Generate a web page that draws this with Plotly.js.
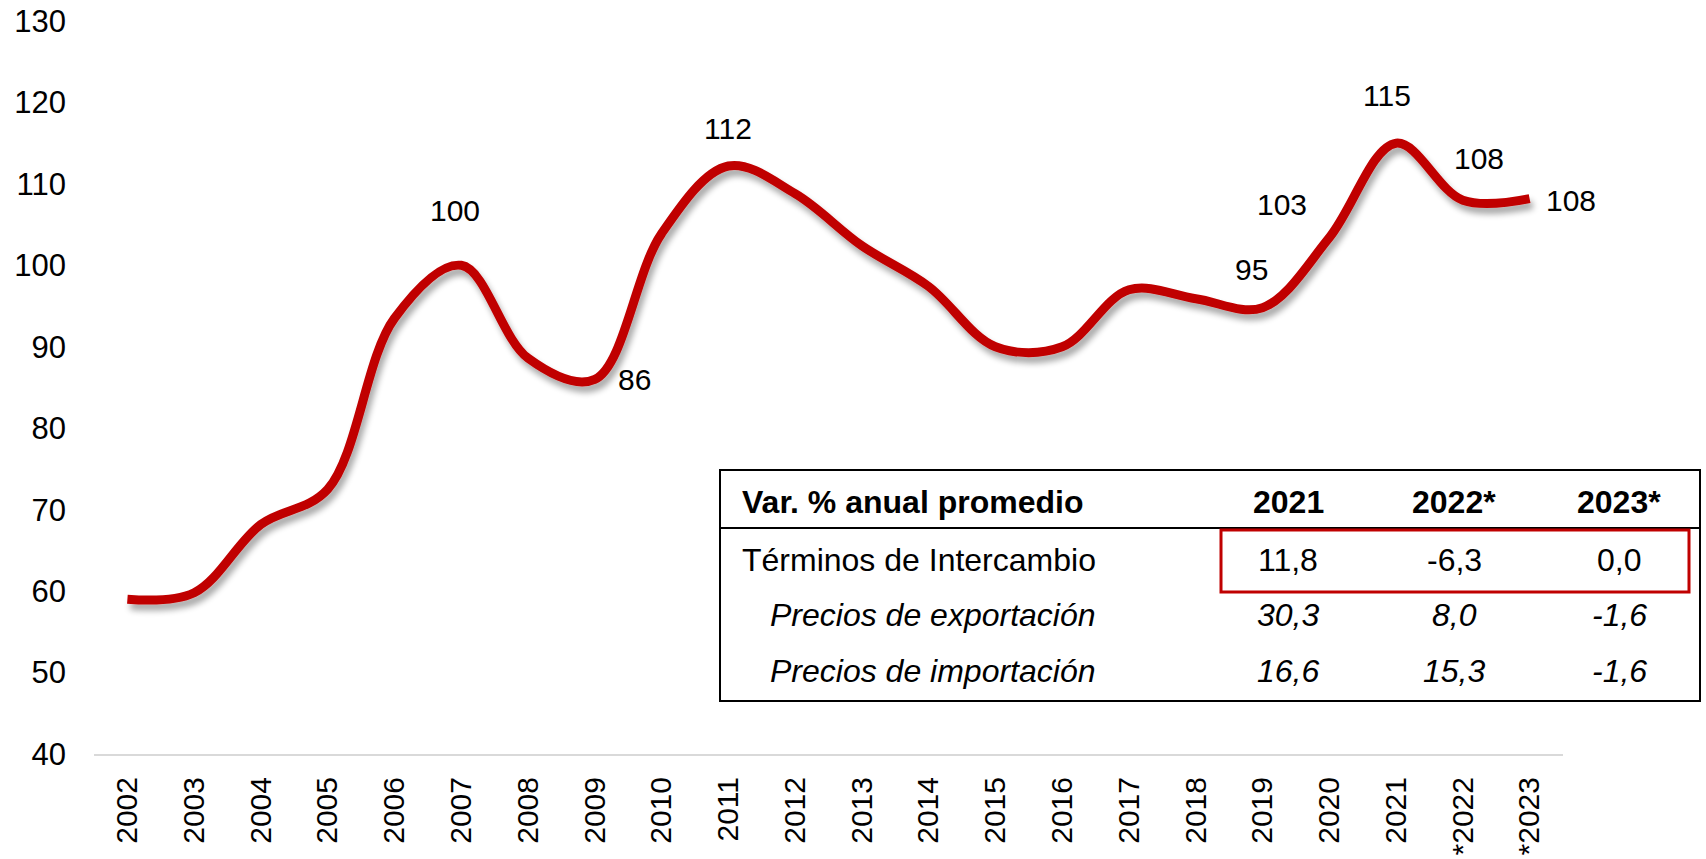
<!DOCTYPE html>
<html>
<head>
<meta charset="utf-8">
<script src="https://cdn.plot.ly/plotly-3.0.1.min.js"></script>
<style>
html,body{margin:0;padding:0;background:#fff;}
#chart{width:1706px;height:859px;}
#chart .scatterlayer path.js-line{filter:url(#lineShadow);}
</style>
</head>
<body>
<svg width="0" height="0" style="position:absolute">
  <defs>
    <filter id="lineShadow" x="-10%" y="-20%" width="130%" height="150%">
      <feGaussianBlur in="SourceAlpha" stdDeviation="3"/>
      <feOffset dx="3" dy="6" result="ob"/>
      <feComponentTransfer><feFuncA type="linear" slope="0.35"/></feComponentTransfer>
      <feMerge><feMergeNode/><feMergeNode in="SourceGraphic"/></feMerge>
    </filter>
  </defs>
</svg>
<div id="chart"></div>
<script>
// ---- data ----
const years = ['2002','2003','2004','2005','2006','2007','2008','2009','2010','2011','2012',
               '2013','2014','2015','2016','2017','2018','2019','2020','2021','*2022','*2023'];
const termsOfTrade = [59.0, 59.8, 68.2, 72.5, 93.5, 100.0, 88.6, 86.0, 103.9, 112.2, 108.8,
                      102.4, 97.4, 90.0, 90.0, 97.0, 95.9, 94.8, 103.4, 115.0, 108.0, 108.2];
const labelledYears = ['2007','2009','2011','2019','2020','2021','*2022','*2023'];
const yTicks = [40,50,60,70,80,90,100,110,120,130];

const tableHeader = ['Var. % anual promedio','2021','2022*','2023*'];
const rowLabels = ['Términos de Intercambio','Precios de exportación','Precios de importación'];
const rowValues = [['11,8','-6,3','0,0'],
                   ['30,3','8,0','-1,6'],
                   ['16,6','15,3','-1,6']];

// ---- layout helpers (pixel -> paper) ----
const W = 1706, H = 859;
const M = {l:94, r:143, t:21, b:105};
const PW = W - M.l - M.r, PH = H - M.t - M.b;
const px = x => (x - M.l) / PW;
const py = y => (H - M.b - y) / PH;

// label offsets (pixels) for the data labels, same order as labelledYears
const labelShift = [[-6,55],[40,0],[0,37],[-11,38],[-47,33],[-9,48],[16,42],[41,-2]];

const FONT = 'Liberation Sans, Arial, sans-serif';

const annotations = labelledYears.map((yr, k) => {
  const i = years.indexOf(yr);
  return {
    x: i, y: termsOfTrade[i], xref:'x', yref:'y',
    text: String(Math.round(termsOfTrade[i])),
    showarrow:false, xshift: labelShift[k][0], yshift: labelShift[k][1],
    font:{family:FONT, size:30, color:'#000'}
  };
});

// table
const TF = 32;
const colX = [740, 1288, 1454, 1619];
const rowY = [502, 560, 615, 671];
annotations.push({xref:'paper', yref:'paper', x:px(colX[0]), y:py(rowY[0]), xanchor:'left', yanchor:'middle',
  text:'<b>'+tableHeader[0]+'</b>', showarrow:false, font:{family:FONT,size:TF,color:'#000'}});
for (let c=1;c<4;c++) {
  annotations.push({xref:'paper', yref:'paper', x:px(colX[c]), y:py(rowY[0]), xanchor:'center', yanchor:'middle',
    text:'<b>'+tableHeader[c]+'</b>', showarrow:false, font:{family:FONT,size:TF,color:'#000'}});
}
rowLabels.forEach((lab, r) => {
  const ital = r > 0;
  annotations.push({xref:'paper', yref:'paper', x:px(ital ? 768 : 740), y:py(rowY[r+1]), xanchor:'left', yanchor:'middle',
    text: ital ? '<i>'+lab+'</i>' : lab, showarrow:false, font:{family:FONT,size:TF,color:'#000'}});
  rowValues[r].forEach((v, c) => {
    annotations.push({xref:'paper', yref:'paper', x:px(colX[c+1]), y:py(rowY[r+1]), xanchor:'center', yanchor:'middle',
      text: ital ? '<i>'+v+'</i>' : v, showarrow:false, font:{family:FONT,size:TF,color:'#000'}});
  });
});

const shapes = [
  {type:'rect', xref:'paper', yref:'paper', x0:px(720), x1:px(1700), y0:py(470), y1:py(701),
   line:{color:'#000', width:2}, fillcolor:'#fff', layer:'above'},
  {type:'line', xref:'paper', yref:'paper', x0:px(720), x1:px(1700), y0:py(528), y1:py(528),
   line:{color:'#000', width:2}, layer:'above'},
  {type:'rect', xref:'paper', yref:'paper', x0:px(1221), x1:px(1689), y0:py(530), y1:py(592),
   line:{color:'#C00000', width:3}, layer:'above'}
];

const trace = {
  x: years, y: termsOfTrade, type:'scatter', mode:'lines',
  line:{color:'#C00000', width:9, shape:'spline', smoothing:1},
  hoverinfo:'x+y', showlegend:false
};

const layout = {
  width:W, height:H,
  margin:M,
  paper_bgcolor:'#fff', plot_bgcolor:'#fff',
  font:{family:FONT, size:30, color:'#000'},
  xaxis:{type:'category', range:[-0.5, 21.5], tickangle:-90, showgrid:false, zeroline:false,
         showline:true, linecolor:'#D9D9D9', linewidth:2, ticks:'', ticklabelstandoff:9,
         tickfont:{family:FONT, size:30, color:'#000'}, fixedrange:true},
  yaxis:{range:[40,130], tickvals:yTicks, showgrid:false, zeroline:false, showline:false,
         ticks:'', ticklabelstandoff:27, tickfont:{family:FONT, size:31, color:'#000'}, fixedrange:true},
  annotations: annotations,
  shapes: shapes
};

Plotly.newPlot('chart', [trace], layout, {displayModeBar:false, staticPlot:true}).then(gd => {
  gd.querySelectorAll('.scatterlayer path.js-line').forEach(p => p.setAttribute('filter','url(#lineShadow)'));
});
</script>
</body>
</html>
